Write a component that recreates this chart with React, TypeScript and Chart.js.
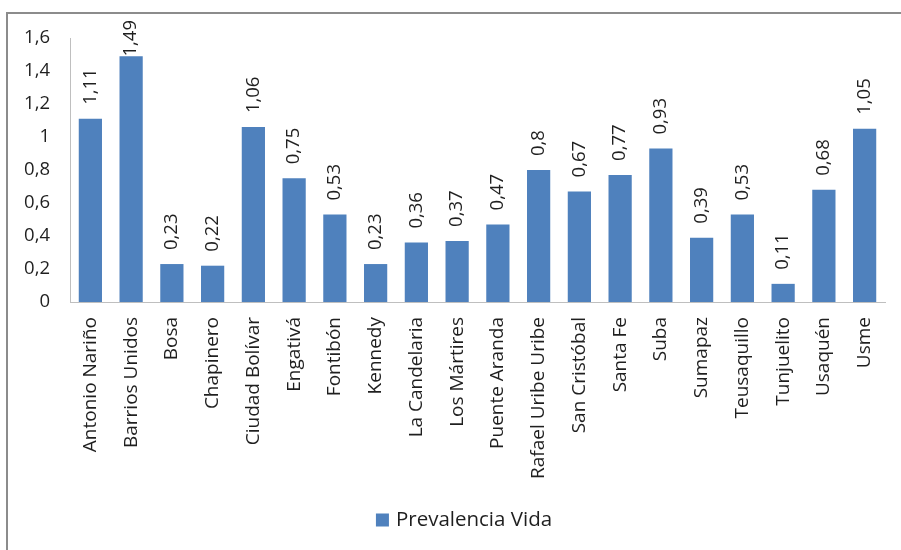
import React, { useEffect, useRef } from "react";
import { Chart, registerables } from "chart.js";

Chart.register(...registerables);

const categories = [
  "Antonio Nariño", "Barrios Unidos", "Bosa", "Chapinero", "Ciudad Bolívar",
  "Engativá", "Fontibón", "Kennedy", "La Candelaria", "Los Mártires",
  "Puente Aranda", "Rafael Uribe Uribe", "San Cristóbal", "Santa Fe", "Suba",
  "Sumapaz", "Teusaquillo", "Tunjuelito", "Usaquén", "Usme",
];
const prevalenciaVida = [
  1.11, 1.49, 0.23, 0.22, 1.06, 0.75, 0.53, 0.23, 0.36, 0.37,
  0.47, 0.8, 0.67, 0.77, 0.93, 0.39, 0.53, 0.11, 0.68, 1.05,
];
const seriesLabel = "Prevalencia Vida";
const yTicks = [0, 0.2, 0.4, 0.6, 0.8, 1, 1.2, 1.4, 1.6];

const BAR_COLOR = "#4f81bd";
const FONT = "'Open Sans', sans-serif";
const TEXT = "#1f1f1f";

const fmt = (v: number) => String(v).replace(".", ",");

const valueLabels = {
  id: "valueLabels",
  afterDatasetsDraw(chart: any) {
    const ctx = chart.ctx;
    const meta = chart.getDatasetMeta(0);
    ctx.save();
    ctx.fillStyle = TEXT;
    ctx.font = `18.5px ${FONT}`;
    ctx.textAlign = "left";
    ctx.textBaseline = "middle";
    meta.data.forEach((bar: any, i: number) => {
      const txt = fmt(prevalenciaVida[i]);
      const w = ctx.measureText(txt).width;
      let start = bar.y - 14;
      if (start - w < 20) start = 20 + w;
      ctx.save();
      ctx.translate(bar.x, start);
      ctx.rotate(-Math.PI / 2);
      ctx.fillText(txt, 0, 0);
      ctx.restore();
    });
    ctx.restore();
  },
};

const customLegend = {
  id: "customLegend",
  afterDraw(chart: any) {
    const ctx = chart.ctx;
    ctx.save();
    ctx.font = `20.5px ${FONT}`;
    const tw = ctx.measureText(seriesLabel).width;
    const total = 13 + 7 + tw;
    const cx = 464;
    const y = 520;
    const x0 = cx - total / 2;
    ctx.fillStyle = BAR_COLOR;
    ctx.fillRect(x0, y - 6.5, 13, 13);
    ctx.fillStyle = TEXT;
    ctx.textAlign = "left";
    ctx.textBaseline = "middle";
    ctx.fillText(seriesLabel, x0 + 20, y);
    ctx.restore();
  },
};

export default function App() {
  const ref = useRef<HTMLCanvasElement | null>(null);
  useEffect(() => {
    if (!ref.current) return;
    const chart = new Chart(ref.current, {
      type: "bar",
      data: {
        labels: categories,
        datasets: [
          {
            label: seriesLabel,
            data: prevalenciaVida,
            backgroundColor: BAR_COLOR,
            categoryPercentage: 1,
            barPercentage: 0.57,
          },
        ],
      },
      options: {
        animation: false,
        responsive: false,
        maintainAspectRatio: false,
        layout: { padding: { left: 0, right: 16, top: 38, bottom: 0 } },
        plugins: {
          legend: { display: false },
          tooltip: { enabled: false },
        },
        scales: {
          x: {
            grid: { display: false },
            border: { display: true, color: "#bfbfbf", width: 1 },
            ticks: {
              color: TEXT,
              font: { family: FONT, size: 19 },
              maxRotation: 90,
              minRotation: 90,
              autoSkip: false,
              padding: 7,
            },
            afterFit: (s: any) => {
              s.height = 550 - 302;
            },
          },
          y: {
            min: 0,
            max: 1.6,
            afterBuildTicks: (s: any) => {
              s.ticks = yTicks.map((v) => ({ value: v }));
            },
            grid: { display: false },
            border: { display: true, color: "#bfbfbf", width: 1 },
            ticks: {
              color: TEXT,
              font: { family: FONT, size: 18.5 },
              padding: 12,
              callback: (v: any) => fmt(Number(v)),
            },
            afterFit: (s: any) => {
              s.width = 70;
            },
          },
        },
      },
      plugins: [valueLabels, customLegend],
    });
    return () => chart.destroy();
  }, []);

  return (
    <div style={{ position: "fixed", left: 0, top: 0, width: 901, height: 550, background: "#fff" }}>
      <div
        style={{
          position: "absolute",
          left: 6,
          top: 12,
          right: 0,
          bottom: 0,
          borderTop: "2px solid #8c8c8c",
          borderLeft: "2px solid #8c8c8c",
        }}
      />
      <canvas ref={ref} width={901} height={550} style={{ position: "absolute", left: 0, top: 0 }} />
    </div>
  );
}
